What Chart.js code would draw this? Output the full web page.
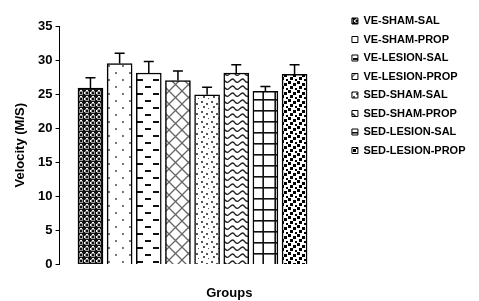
<!DOCTYPE html>
<html>
<head>
<meta charset="utf-8">
<script src="https://cdn.jsdelivr.net/npm/chart.js@4"></script>
<style>
  html, body { margin: 0; padding: 0; background: #fff; }
  #wrap { width: 479px; height: 301px; }
</style>
</head>
<body>
<div id="wrap"><canvas id="velChart"></canvas></div>
<script>
// data
const groups = ["VE-SHAM-SAL", "VE-SHAM-PROP", "VE-LESION-SAL", "VE-LESION-PROP",
                "SED-SHAM-SAL", "SED-SHAM-PROP", "SED-LESION-SAL", "SED-LESION-PROP"]
const velocity = [25.9, 29.5, 28.1, 27.0, 24.9, 28.1, 25.4, 27.9]
const errors = [1.5, 1.5, 1.7, 1.4, 1.1, 1.2, 0.7, 1.4]
const yTicks = [0, 5, 10, 15, 20, 25, 30, 35]

const FONT = "'Liberation Sans', Arial, sans-serif"

// fill patterns, one per group
function tile(w, h, draw) {
    const c = document.createElement("canvas")
    c.width = w; c.height = h
    const g = c.getContext("2d")
    g.fillStyle = "#fff"
    g.fillRect(0, 0, w, h)
    draw(g)
    return g.createPattern(c, "repeat")
}

const patterns = [
    tile(6, 6, g => {
        g.fillStyle = "#111"; g.fillRect(0, 0, 6, 6)
        g.fillStyle = "#999"; g.fillRect(1, 1, 4, 4)
        g.fillStyle = "#111"; g.fillRect(2, 2, 2, 2)
        g.fillStyle = "#fff"; g.fillRect(0, 2, 1, 2); g.fillRect(2, 0, 2, 1)
    }),
    tile(14, 14, g => {
        g.fillStyle = "#777"
        g.fillRect(3, 2, 2, 2); g.fillRect(10, 9, 2, 2)
    }),
    tile(16, 14, g => {
        g.fillStyle = "#111"
        g.fillRect(1, 2, 6, 2); g.fillRect(9, 9, 6, 2)
    }),
    tile(13, 13, g => {
        g.strokeStyle = "#666"; g.lineWidth = 1.3
        g.beginPath()
        g.moveTo(0, 0); g.lineTo(13, 13)
        g.moveTo(13, 0); g.lineTo(0, 13)
        g.stroke()
    }),
    tile(10, 10, g => {
        g.fillStyle = "#555"
        g.fillRect(1, 1, 2, 2); g.fillRect(6, 3, 2, 2)
        g.fillRect(3, 6, 2, 2); g.fillRect(8, 8, 1, 1)
    }),
    tile(10, 7, g => {
        g.strokeStyle = "#222"; g.lineWidth = 1.3
        g.beginPath()
        g.moveTo(0, 4)
        g.quadraticCurveTo(2.5, 0, 5, 4)
        g.quadraticCurveTo(7.5, 7, 10, 3.5)
        g.stroke()
    }),
    tile(12, 11, g => {
        g.fillStyle = "#111"
        g.fillRect(0, 0, 12, 1.6)
        g.fillRect(10.4, 0, 1.6, 11)
    }),
    tile(9, 9, g => {
        g.fillStyle = "#000"
        g.fillRect(0, 0, 3, 3); g.fillRect(5, 2, 3, 3)
        g.fillRect(2, 5, 3, 3); g.fillRect(7, 7, 2, 2)
    })
]

const positions = groups.map((g, i) => i + 1)

// upward-only error bars with caps
const errorBars = {
    id: "errorBars",
    afterDatasetsDraw(chart) {
        const { ctx, scales: { x, y } } = chart
        ctx.save()
        ctx.strokeStyle = "#000"
        ctx.lineWidth = 1.5
        velocity.forEach((v, i) => {
            const px = x.getPixelForValue(positions[i])
            const top = y.getPixelForValue(v + errors[i])
            const base = y.getPixelForValue(v)
            ctx.beginPath()
            ctx.moveTo(px, base); ctx.lineTo(px, top)
            ctx.moveTo(px - 5, top); ctx.lineTo(px + 5, top)
            ctx.stroke()
        })
        ctx.restore()
    }
}

new Chart(document.getElementById("velChart"), {
    type: "bar",
    data: {
        labels: groups,
        datasets: [{
            data: velocity.map((v, i) => ({ x: positions[i], y: v })),
            backgroundColor: patterns,
            borderColor: "#000",
            borderWidth: 1.5,
            barThickness: 25
        }]
    },
    options: {
        responsive: true,
        maintainAspectRatio: false,
        animation: false,
        layout: { padding: { left: -17, right: 3.5, top: 8, bottom: 0 } },
        plugins: {
            tooltip: { enabled: false },
            legend: {
                position: "right",
                align: "start",
                maxWidth: 200,
                labels: {
                    font: { family: FONT, size: 11, weight: "bold" },
                    color: "#000",
                    boxWidth: 6,
                    boxHeight: 6,
                    padding: 7.5,
                    generateLabels: () => groups.map((g, i) => ({
                        text: g,
                        fillStyle: patterns[i],
                        strokeStyle: "#000",
                        lineWidth: 1,
                        index: i
                    }))
                }
            },
            title: {
                display: true,
                position: "bottom",
                text: "Groups",
                color: "#000",
                font: { family: FONT, size: 13, weight: "bold" },
                padding: { top: 21, bottom: 0 }
            }
        },
        scales: {
            x: {
                type: "linear",
                position: "top",
                offset: false,
                min: -0.06,
                max: 9.71,
                ticks: { display: false },
                grid: { display: false },
                border: { display: false },
                afterFit: axis => { axis.height = 18 }
            },
            y: {
                min: 0,
                max: 35,
                afterBuildTicks: axis => { axis.ticks = yTicks.map(v => ({ value: v })) },
                border: { display: true, color: "#000", width: 1 },
                grid: { drawOnChartArea: false, drawTicks: true, tickLength: 4, color: "#000" },
                ticks: {
                    color: "#000",
                    padding: 3,
                    font: { family: FONT, size: 13, weight: "bold" }
                },
                title: {
                    display: true,
                    text: "Velocity (M/S)",
                    color: "#000",
                    font: { family: FONT, size: 13, weight: "bold" },
                    padding: { top: 30, bottom: 6.5 }
                }
            }
        }
    },
    plugins: [errorBars]
})
</script>
</body>
</html>
